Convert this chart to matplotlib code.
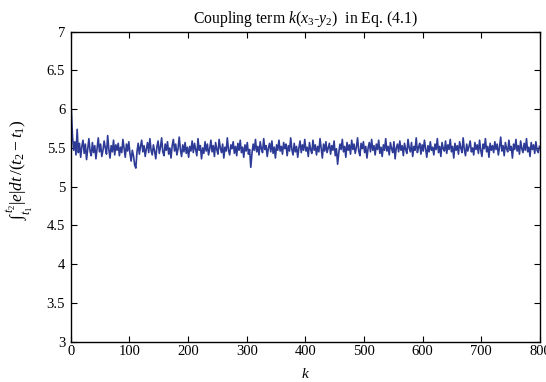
import numpy as np
import matplotlib
matplotlib.use("Agg")
import matplotlib.pyplot as plt

# values (odd k from 1 to 799)
vals = [
    6.00, 5.66, 5.47, 5.58, 5.41, 5.74, 5.44, 5.56, 5.38, 5.52, 5.60, 5.43, 5.55, 5.35, 5.49, 5.62, 5.46, 5.40, 5.57, 5.44,
    5.53, 5.36, 5.50, 5.63, 5.45, 5.55, 5.39, 5.47, 5.59, 5.50, 5.42, 5.66, 5.48, 5.37, 5.53, 5.45, 5.60, 5.41, 5.54, 5.47,
    5.56, 5.40, 5.51, 5.44, 5.61, 5.49, 5.38, 5.55, 5.46, 5.58, 5.43, 5.33, 5.47, 5.40, 5.28, 5.24, 5.45, 5.56, 5.42, 5.52,
    5.60, 5.45, 5.53, 5.39, 5.49, 5.57, 5.44, 5.62, 5.47, 5.41, 5.54, 5.46, 5.36, 5.52, 5.59, 5.43, 5.51, 5.63, 5.45, 5.40,
    5.55, 5.47, 5.58, 5.42, 5.50, 5.37, 5.53, 5.61, 5.46, 5.55, 5.41, 5.49, 5.64, 5.48, 5.39, 5.54, 5.45, 5.57, 5.43, 5.51,
    5.38, 5.52, 5.46, 5.59, 5.44, 5.56, 5.48, 5.40, 5.62, 5.47, 5.53, 5.36, 5.50, 5.43, 5.58, 5.46, 5.55, 5.41, 5.49, 5.60,
    5.45, 5.53, 5.39, 5.57, 5.48, 5.42, 5.61, 5.50, 5.44, 5.55, 5.37, 5.51, 5.46, 5.63, 5.47, 5.41, 5.54, 5.49, 5.58, 5.43,
    5.52, 5.40, 5.56, 5.47, 5.60, 5.44, 5.51, 5.38, 5.54, 5.46, 5.57, 5.42, 5.48, 5.25, 5.43, 5.55, 5.47, 5.61, 5.45, 5.52,
    5.41, 5.58, 5.49, 5.44, 5.62, 5.48, 5.53, 5.39, 5.50, 5.56, 5.45, 5.59, 5.43, 5.51, 5.37, 5.54, 5.47, 5.60, 5.46, 5.52,
    5.42, 5.57, 5.49, 5.55, 5.40, 5.53, 5.46, 5.63, 5.48, 5.41, 5.56, 5.45, 5.52, 5.38, 5.50, 5.59, 5.44, 5.54, 5.47, 5.61,
    5.46, 5.51, 5.39, 5.57, 5.48, 5.43, 5.60, 5.47, 5.54, 5.41, 5.52, 5.45, 5.62, 5.49, 5.37, 5.55, 5.46, 5.58, 5.44, 5.50,
    5.56, 5.42, 5.53, 5.47, 5.59, 5.40, 5.49, 5.29, 5.44, 5.55, 5.48, 5.61, 5.45, 5.52, 5.38, 5.57, 5.47, 5.54, 5.42, 5.60,
    5.48, 5.55, 5.43, 5.51, 5.63, 5.46, 5.40, 5.56, 5.49, 5.58, 5.44, 5.52, 5.37, 5.50, 5.57, 5.45, 5.61, 5.47, 5.53, 5.41,
    5.55, 5.48, 5.60, 5.43, 5.51, 5.39, 5.54, 5.47, 5.62, 5.46, 5.52, 5.41, 5.57, 5.49, 5.44, 5.58, 5.36, 5.50, 5.55, 5.45,
    5.59, 5.47, 5.53, 5.40, 5.56, 5.48, 5.43, 5.61, 5.50, 5.45, 5.57, 5.39, 5.52, 5.47, 5.63, 5.44, 5.51, 5.56, 5.42, 5.54,
    5.46, 5.60, 5.49, 5.38, 5.53, 5.45, 5.58, 5.47, 5.51, 5.41, 5.55, 5.48, 5.62, 5.44, 5.52, 5.39, 5.57, 5.49, 5.46, 5.59,
    5.43, 5.54, 5.48, 5.61, 5.45, 5.52, 5.37, 5.56, 5.47, 5.53, 5.42, 5.58, 5.50, 5.44, 5.63, 5.48, 5.40, 5.55, 5.46, 5.52,
    5.59, 5.45, 5.50, 5.41, 5.57, 5.48, 5.54, 5.43, 5.60, 5.47, 5.39, 5.55, 5.49, 5.62, 5.45, 5.52, 5.38, 5.56, 5.47, 5.53,
    5.44, 5.58, 5.48, 5.55, 5.41, 5.51, 5.64, 5.46, 5.53, 5.40, 5.57, 5.49, 5.45, 5.60, 5.47, 5.52, 5.37, 5.55, 5.48, 5.61,
    5.46, 5.53, 5.42, 5.59, 5.49, 5.44, 5.56, 5.47, 5.62, 5.45, 5.51, 5.39, 5.57, 5.48, 5.54, 5.43, 5.58, 5.47, 5.44, 5.52,
]
steps = list(range(1, 2 * len(vals), 2))

x_ticks = [0, 100, 200, 300, 400, 500, 600, 700, 800]
y_ticks = [3, 3.5, 4, 4.5, 5, 5.5, 6, 6.5, 7]
y_tick_labels = ["3", "3.5", "4", "4.5", "5", "5.5", "6", "6.5", "7"]

plt.rcParams["font.family"] = "Liberation Serif"
plt.rcParams["mathtext.fontset"] = "custom"
plt.rcParams["mathtext.rm"] = "Liberation Serif"
plt.rcParams["mathtext.it"] = "Liberation Serif:italic"

fig = plt.figure(figsize=(5.46, 3.82), dpi=100)
ax = fig.add_axes([0.1295, 0.1055, 0.8595, 0.8115])

ax.plot(steps, vals, color="#2e3b96", linewidth=1.2)

ax.set_xlim(0, 800)
ax.set_ylim(3, 7)
ax.set_xticks(x_ticks)
ax.set_yticks(y_ticks)
ax.set_yticklabels(y_tick_labels)
ax.tick_params(direction="in", top=True, right=True, length=4, width=0.8,
               labelsize=10.5)
ax.tick_params(axis="x", pad=2.5)
ax.tick_params(axis="y", pad=4)
for sp in ax.spines.values():
    sp.set_linewidth(1.0)

ax.set_title(r"Coupling term $k(x_3$-$y_2)$  in Eq. (4.1)", fontsize=11.3, pad=6)
ax.set_xlabel(r"$k$", fontsize=11, labelpad=6)
ax.set_ylabel(r"$\int_{t_1}^{t_2}|e|dt\,/(t_2-t_1)$", fontsize=12.5)
ax.yaxis.set_label_coords(-0.076, 0.554)

fig.savefig("out.png", dpi=100)
